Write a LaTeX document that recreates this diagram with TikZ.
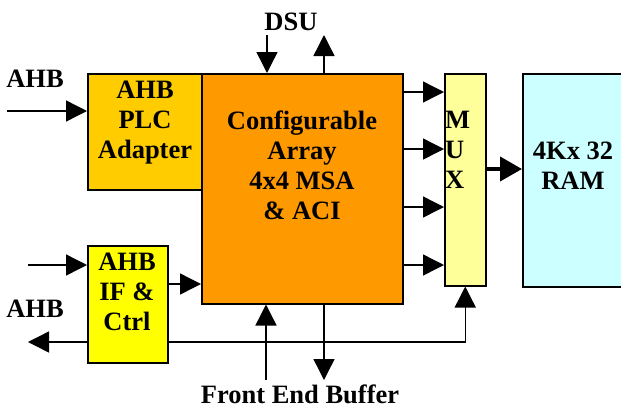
\documentclass[tikz,border=0pt]{standalone}
\usepackage{fontspec}
\setmainfont{Liberation Serif}
\usetikzlibrary{arrows.meta}
\definecolor{plcc}{HTML}{FFCC00}
\definecolor{arrc}{HTML}{FF9900}
\definecolor{ifc}{HTML}{FFFF00}
\definecolor{muxc}{HTML}{FFFF99}
\definecolor{ramc}{HTML}{CCFFFF}
\begin{document}
\begin{tikzpicture}[x=1pt,y=-1pt,
  box/.style={draw=black, line width=1.5pt, inner sep=0pt, anchor=north west},
  lbl/.style={font=\fontsize{26.5}{30}\selectfont\bfseries, inner sep=0pt, align=center},
  conn/.style={line width=1.4pt, -{Triangle[length=21pt,width=21pt]}},
  bigconn/.style={line width=4pt, -{Triangle[length=22pt,width=24pt]}}
]
\useasboundingbox (0,0) rectangle (621,408);
\clip (0,0) rectangle (621,408);

% boxes
\node[box, fill=plcc, minimum width=114pt, minimum height=116pt] (plc) at (87,73) {};
\node[box, fill=arrc, minimum width=201pt, minimum height=230pt] (arr) at (201,73) {};
\node[box, fill=ifc, minimum width=80pt, minimum height=117pt] (ifb) at (87,245) {};
\node[box, fill=muxc, minimum width=41pt, minimum height=212pt] (mux) at (444,73) {};
\node[box, fill=ramc, minimum width=130pt, minimum height=213pt] (ram) at (522,73) {};

% box texts
\node[lbl] (plct) at (145,123) {AHB\\PLC\\Adapter};
\node[lbl] (arrt) at (302,165) {Configurable\\Array\\4x4 MSA\\\& ACI};
\node[lbl] (ift) at (127,292) {AHB\\IF \&\\Ctrl};
\node[lbl, align=left, anchor=west] (muxt) at (445,150) {M\\U\\X};
\node[lbl] (ramt) at (573,166) {4Kx 32\\RAM};

% outside labels
\node[lbl, anchor=base] (ahb1) at (35,87) {AHB};
\node[lbl, anchor=base] (ahb2) at (35,317) {AHB};
\node[lbl, anchor=base] (dsu) at (291,30) {DSU};
\node[lbl, anchor=base] (feb) at (300,403) {Front End Buffer};

% connectors
\coordinate (ahbA) at (7,111);
\draw[conn] (ahbA) -- (ahbA -| plc.west);
\coordinate (dsuI) at (267,35);
\draw[conn] (dsuI) -- (dsuI |- arr.north);
\coordinate (dsuO) at (324,35);
\draw[conn] (dsuO |- arr.north) -- (dsuO);
\foreach \yy [count=\i] in {92,149,207,265} {
  \coordinate (m\i) at (404,\yy);
  \draw[conn] (m\i) -- (m\i -| mux.west);
}
\coordinate (r) at (500,169);
\draw[bigconn] (r -| mux.east) -- (r -| ram.west);
\coordinate (ifin) at (28,265);
\draw[conn] (ifin) -- (ifin -| ifb.west);
\coordinate (ifo) at (180,284);
\draw[conn] (ifo -| ifb.east) -- (ifo -| arr.west);
\coordinate (ahbB) at (28,342);
\draw[conn] (ahbB -| ifb.west) -- (ahbB);
\draw[conn] (ahbB -| ifb.east) -| (mux.south);
\coordinate (feI) at (266,380);
\draw[conn] (feI) -- (feI |- arr.south);
\coordinate (feO) at (324,380);
\draw[conn] (feO |- arr.south) -- (feO);
\end{tikzpicture}
\end{document}
